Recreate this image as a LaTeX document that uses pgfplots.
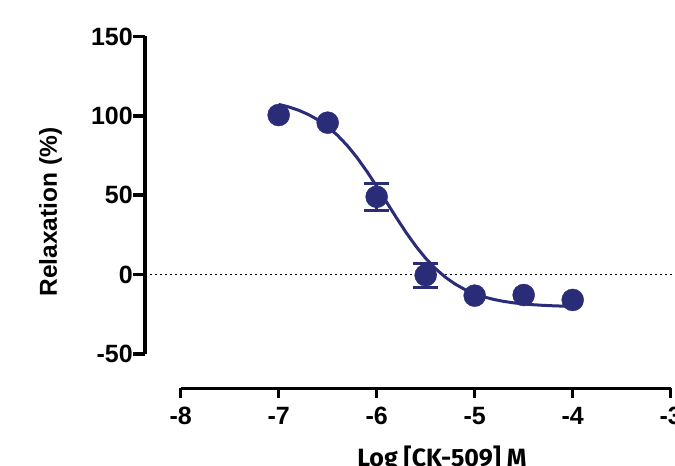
\documentclass[border=0pt]{standalone}
\usepackage{pgfplots}
\pgfplotsset{compat=1.18}
\usepackage{fontspec}
\setmainfont{Liberation Sans}
\newfontfamily\xlabfont{Fira Sans}
\definecolor{navy}{RGB}{42,44,120}
\begin{document}
\begin{tikzpicture}[x=1pt,y=1pt]
\useasboundingbox (0,0) rectangle (675,466);
% y axis with data
\begin{axis}[
  at={(145pt,112.1pt)}, anchor=south west,
  scale only axis, width=530pt, height=317.4pt,
  xmin=-8.364, xmax=-2.956, ymin=-50, ymax=150,
  axis x line=none, axis y line*=left,
  ytick={-50,0,50,100,150}, yticklabels={-50,0,50,100,150},
  tick align=outside, major tick length=12pt,
  axis line style={line width=3.5pt},
  tick style={line width=3.5pt, black},
  yticklabel style={font=\fontsize{25}{25}\selectfont\bfseries, anchor=east, inner sep=0pt},
  ylabel={Relaxation (\%)},
  ylabel style={font=\fontsize{24.5}{24.5}\selectfont\bfseries, at={(axis description cs:-0.178,0.447)}, anchor=center},
  clip=false,
]
\addplot[black, line width=1.3pt, dash pattern=on 1.5pt off 3.5pt] coordinates {(-8.364,0) (-2.956,0)};
\addplot[navy, line width=3pt, mark=none] coordinates {
(-7.0,107.25) (-6.9,105.68) (-6.8,103.61) (-6.7,100.93) (-6.6,97.48)
(-6.5,93.14) (-6.4,87.76) (-6.3,81.27) (-6.2,73.65) (-6.1,65.01)
(-6.0,55.59) (-5.9,45.75) (-5.8,35.91) (-5.7,26.49) (-5.6,17.85)
(-5.5,10.23) (-5.4,3.74) (-5.3,-1.64) (-5.2,-5.98) (-5.1,-9.43)
(-5.0,-12.11) (-4.9,-14.18) (-4.8,-15.75) (-4.7,-16.95) (-4.6,-17.85)
(-4.5,-18.52) (-4.4,-19.03) (-4.3,-19.41) (-4.2,-19.69) (-4.1,-19.90)
(-4.0,-20.05)};
\addplot[navy, only marks, mark=*, mark size=11pt, mark options={fill=navy, draw=navy},
  error bars/.cd, y dir=both, y explicit,
  error bar style={line width=3pt, navy},
  error mark options={rotate=90, mark size=12.5pt, line width=3pt, navy}]
  coordinates {(-6,49.0) +- (0,8.6) (-5.5,-0.4) +- (0,7.5)};
\addplot[navy, only marks, mark=*, mark size=11pt, mark options={fill=navy, draw=navy}]
  coordinates {(-7,100.5) (-6.5,95.7) (-5,-13.3) (-4.5,-12.9) (-4,-16.0)};
\end{axis}
% x axis
\begin{axis}[
  at={(180.7pt,77.7pt)}, anchor=south west,
  scale only axis, width=490pt, height=100pt,
  xmin=-8, xmax=-3, ymin=0, ymax=1,
  axis y line=none, axis x line*=bottom,
  xtick={-8,-7,-6,-5,-4,-3}, xticklabels={-8,-7,-6,-5,-4,-3},
  tick align=outside, major tick length=10pt,
  axis line style={line width=3.5pt},
  tick style={line width=3.5pt, black},
  xticklabel style={font=\fontsize{25}{25}\selectfont\bfseries, anchor=north, inner sep=0pt, yshift=-9pt},
  xlabel={Log [CK-509] M},
  xlabel style={font=\xlabfont\bfseries\fontsize{25}{25}\selectfont, at={(axis description cs:0.533,-0.57)}, anchor=north, inner sep=0pt},
]
\addplot[draw=none] coordinates {(-8,0)};
\end{axis}
\end{tikzpicture}
\end{document}
